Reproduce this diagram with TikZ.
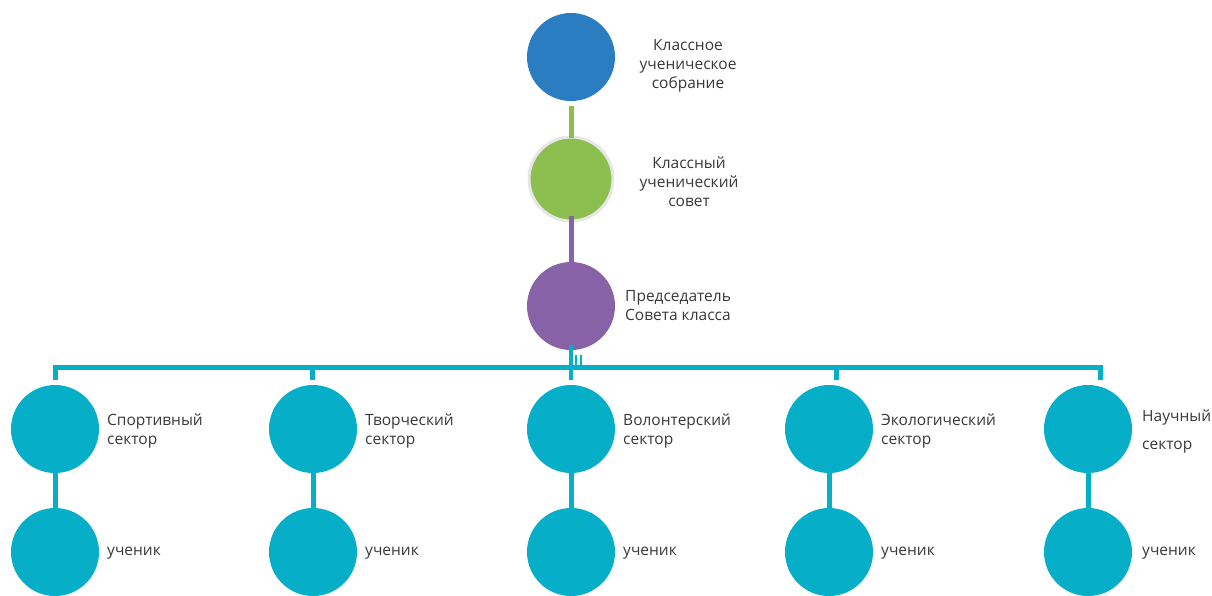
\documentclass[tikz,border=0pt]{standalone}
\usepackage{fontspec}
\setmainfont{Open Sans}
\definecolor{cblue}{HTML}{2A7DC0}
\definecolor{cgreen}{HTML}{8DBE50}
\definecolor{cpurple}{HTML}{8862A6}
\definecolor{cteal}{HTML}{06AEC8}
\definecolor{cring}{HTML}{E6E6E6}
\definecolor{ctext}{HTML}{383838}
\tikzset{
  circ/.style={circle, inner sep=0pt, minimum size=88pt},
  lbl/.style={inner sep=0pt, text=ctext, font=\fontsize{15.5}{19}\selectfont},
  conn/.style={line width=5pt},
}
\begin{document}
\begin{tikzpicture}[x=1pt,y=-1pt]
\clip (0,0) rectangle (1212,595);
\useasboundingbox (0,0) rectangle (1212,595);
% top
\node[circ, fill=cblue] (c1) at (571,57) {};
\node[circ, minimum size=84pt, fill=cgreen, draw=cring, line width=3pt] (c2) at (571,179) {};
\node[circ, fill=cpurple] (c3) at (571,306) {};
\node[lbl, align=center] (t1) at (688,66) {Классное\\ученическое\\собрание};
\node[lbl, align=center] (t2) at (689,182) {Классный\\ученический\\совет};
\node[lbl, align=left, anchor=west] (t3) at (625,306) {Председатель\\Совета класса};
\draw[conn, cgreen] ([yshift=-5pt]c1.south) -- ([yshift=-2pt]c2.north);
\draw[conn, cpurple] ([yshift=7pt]c2.south) -- ([yshift=-7pt]c3.north);
% sectors
\foreach \i/\x/\txt in {1/55/{Спортивный\\сектор},2/313/{Творческий\\сектор},3/571/{Волонтерский\\сектор},4/829/{Экологический\\сектор}}{
  \node[circ, fill=cteal] (s\i) at (\x,429) {};
  \node[circ, fill=cteal] (u\i) at (\x,552) {};
  \node[lbl, align=left, anchor=west] (ts\i) at (\x+52,431) {\txt};
  \node[lbl, anchor=west] (tu\i) at (\x+52,553) {ученик};
  \draw[conn, cteal] ([yshift=5pt]s\i.south) -- ([yshift=-5pt]u\i.north);
}
\node[circ, fill=cteal] (s5) at (1088,429) {};
\node[circ, fill=cteal] (u5) at (1088,552) {};
\node[lbl, align=left, anchor=west, font=\fontsize{15.5}{28}\selectfont] (ts5) at (1142,431) {Научный\\сектор};
\node[lbl, anchor=west] (tu5) at (1142,553) {ученик};
\draw[conn, cteal] ([yshift=5pt]s5.south) -- ([yshift=-5pt]u5.north);
% bus
\coordinate (bl) at (55,367);
\coordinate (br) at (1100,367);
\coordinate (b2) at (312,367);
\coordinate (b4) at (836,367);
\coordinate (bc) at (571,380);
\draw[conn, cteal, line join=miter] (55,380) -- (bl) -- (br) -- (1100,380);
\draw[conn, cteal] (b2) -- (312,380);
\draw[conn, cteal] (b4) -- (836,380);
\draw[line width=4pt, cteal] ([yshift=5pt]c3.south) -- (bc);
\draw[line width=2pt, cteal] (576,355) -- (576,367);
\draw[line width=2pt, cteal] (580.5,355) -- (580.5,367);
\end{tikzpicture}
\end{document}
